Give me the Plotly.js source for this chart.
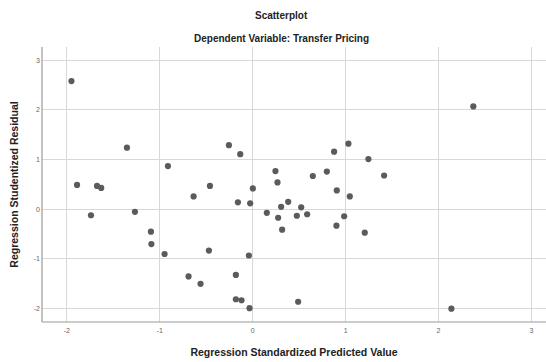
<!DOCTYPE html>
<html>
<head>
<meta charset="utf-8">
<script src="https://cdn.plot.ly/plotly-3.0.1.min.js"></script>
<style>html,body{margin:0;padding:0;background:#fff;}#chart{width:546px;height:362px;}</style>
</head>
<body>
<div id="chart"></div>
<script>
const predicted = [-1.95,-1.89,-1.74,-1.675,-1.63,-1.353,-1.267,-1.095,-1.09,-0.948,-0.912,-0.69,-0.636,-0.561,-0.471,-0.46,-0.256,-0.181,-0.181,-0.159,-0.134,-0.12,-0.041,-0.034,-0.027,0.002,0.152,0.245,0.267,0.274,0.306,0.317,0.382,0.475,0.489,0.522,0.586,0.647,0.798,0.876,0.901,0.905,0.984,1.03,1.045,1.206,1.245,1.414,2.138,2.374];
const residual = [2.58,0.49,-0.12,0.47,0.43,1.24,-0.05,-0.45,-0.70,-0.90,0.87,-1.35,0.26,-1.50,-0.83,0.47,1.29,-1.32,-1.81,0.14,1.11,-1.83,-0.93,-1.99,0.12,0.42,-0.07,0.77,0.54,-0.17,0.05,-0.41,0.15,-0.13,-1.86,0.04,-0.10,0.67,0.76,1.16,-0.33,0.38,-0.14,1.32,0.26,-0.47,1.01,0.68,-2.00,2.07];
const tickVals = [-2,-1,0,1,2,3];
const tickText = ['-2','-1','0','1','2','3'];
const chartTitle = 'Scatterplot';
const chartSubtitle = 'Dependent Variable: Transfer Pricing';
const xTitle = 'Regression Standardized Predicted Value';
const yTitle = 'Regression Studentized Residual';

const trace = {
  x: predicted, y: residual, type: 'scatter', mode: 'markers',
  marker: {color: '#5b5b5f', size: 6.2, line: {width: 0}},
  hoverinfo: 'skip'
};

const axisCommon = {
  tickvals: tickVals, ticktext: tickText,
  showgrid: true, gridcolor: '#d8d8d8', gridwidth: 1,
  zeroline: false, ticks: '',
  tickfont: {family: 'Liberation Sans, Arial, sans-serif', size: 7, color: '#666'},
  showline: false
};

const layout = {
  width: 546, height: 362,
  margin: {l: 42, r: 0, t: 47, b: 40},
  paper_bgcolor: '#fff', plot_bgcolor: '#fff',
  showlegend: false,
  font: {family: 'Liberation Sans, Arial, sans-serif', color: '#222'},
  xaxis: Object.assign({}, axisCommon, {
    range: [-2.267, 3.156],
    ticklabelstandoff: 3,
    title: {text: xTitle, font: {size: 10.5, color: '#222', family: 'Liberation Sans, Arial, sans-serif', weight: 'bold'}, standoff: 15}
  }),
  yaxis: Object.assign({}, axisCommon, {
    range: [-2.268, 3.266],
    ticklabelstandoff: 1,
    title: {text: yTitle, font: {size: 10.5, color: '#222', family: 'Liberation Sans, Arial, sans-serif', weight: 'bold'}, standoff: 13}
  }),
  shapes: [
    {type: 'line', xref: 'paper', yref: 'paper', x0: 0, x1: 0, y0: 0, y1: 1, line: {color: '#9a9a9a', width: 1.2}},
    {type: 'line', xref: 'paper', yref: 'paper', x0: 0, x1: 1, y0: 0, y1: 0, line: {color: '#9a9a9a', width: 1.2}}
  ],
  annotations: [
    {text: '<b>' + chartTitle + '</b>', xref: 'paper', yref: 'paper', x: (281 - 42) / 504, y: 1, yshift: 32, showarrow: false, xanchor: 'center', yanchor: 'middle', font: {size: 10, color: '#222'}},
    {text: '<b>' + chartSubtitle + '</b>', xref: 'paper', yref: 'paper', x: (281 - 42) / 504, y: 1, yshift: 9, showarrow: false, xanchor: 'center', yanchor: 'middle', font: {size: 10, color: '#222'}}
  ]
};

Plotly.newPlot('chart', [trace], layout, {displayModeBar: false, staticPlot: true});
</script>
</body>
</html>
